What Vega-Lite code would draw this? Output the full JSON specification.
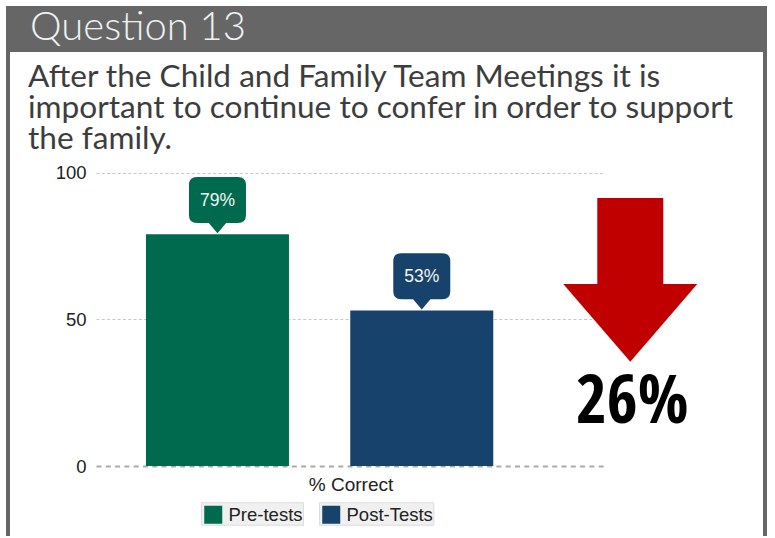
{
  "$schema": "https://vega.github.io/schema/vega-lite/v6.json",
  "padding": {"left": 6, "top": 6, "right": 8, "bottom": 0},
  "background": "#ffffff",
  "spacing": -2,
  "config": {"font": "Liberation Sans"},
  "resolve": {"scale": {"color": "independent"}, "legend": {"color": "independent"}},
  "datasets": {
    "scores": [
      {"series": "Pre-tests", "value": 79, "label": "79%"},
      {"series": "Post-Tests", "value": 53, "label": "53%"}
    ],
    "change": [{"label": "26%"}],
    "heading": [{"text": "Question 13"}],
    "question": [{"text": "After the Child and Family Team Meetings it is\nimportant to continue to confer in order to support\nthe family."}]
  },
  "vconcat": [
    {
      "width": 757,
      "height": 42,
      "view": {"fill": "#666666", "stroke": "#666666", "strokeWidth": 4},
      "data": {"name": "heading"},
      "mark": {
        "type": "text",
        "align": "left",
        "baseline": "alphabetic",
        "dx": -356.5,
        "dy": 11,
        "font": "Lato",
        "fontSize": 40,
        "fontWeight": 300,
        "color": "#eef2f2"
      },
      "encoding": {"text": {"field": "text"}}
    },
    {
      "width": 757,
      "height": 484,
      "view": {
        "fill": "#ffffff",
        "stroke": "#666666",
        "strokeWidth": 4,
        "strokeDash": [0, 757, 484, 757, 484, 0]
      },
      "layer": [
        {
          "data": {"name": "question"},
          "mark": {
            "type": "text",
            "align": "left",
            "baseline": "alphabetic",
            "lineBreak": "\n",
            "lineHeight": 31.2,
            "dx": -358.5,
            "dy": -207,
            "font": "Lato",
            "fontSize": 31.6,
            "color": "#3d3d3d"
          },
          "encoding": {"text": {"field": "text"}}
        },
        {
          "data": {"name": "scores"},
          "mark": {"type": "bar"},
          "encoding": {
            "x": {
              "field": "series",
              "type": "nominal",
              "scale": {
                "type": "band",
                "domain": ["Pre-tests", "Post-Tests"],
                "range": [88, 597],
                "paddingInner": 0.3,
                "paddingOuter": 0.3957,
                "align": 0.309
              },
              "axis": {
                "title": "% Correct",
                "labels": false,
                "ticks": false,
                "grid": false,
                "domain": true,
                "domainColor": "#aaaaaa",
                "domainDash": [5, 4.3],
                "domainWidth": 1.8,
                "offset": -70,
                "titleFont": "Liberation Sans",
                "titleFontSize": 19,
                "titleFontWeight": "normal",
                "titleColor": "#222222",
                "titlePadding": 9
              }
            },
            "y": {
              "field": "value",
              "type": "quantitative",
              "scale": {"domain": [0, 100], "range": [414, 120.7], "nice": false},
              "axis": {
                "values": [0, 50, 100],
                "orient": "left",
                "offset": -88,
                "domain": false,
                "ticks": false,
                "labelPadding": 10,
                "labelFont": "Liberation Sans",
                "labelFontSize": 18.5,
                "labelColor": "#222222",
                "title": null,
                "grid": true,
                "gridColor": "#c8c8c8",
                "gridDash": [3, 2.3],
                "gridWidth": 1,
                "gridOpacity": {"condition": {"test": "datum.value === 0", "value": 0}, "value": 1}
              }
            },
            "color": {
              "field": "series",
              "type": "nominal",
              "scale": {"domain": ["Pre-tests", "Post-Tests"], "range": ["#006A4E", "#16426B"]},
              "legend": {
                "orient": "none",
                "legendX": 193,
                "legendY": 450,
                "direction": "horizontal",
                "title": null,
                "padding": 0,
                "symbolType": "square",
                "symbolSize": 324,
                "symbolStrokeWidth": 0,
                "symbolOffset": 3,
                "labelFont": "Liberation Sans",
                "labelFontSize": 18.5,
                "labelColor": "#222222",
                "labelOffset": 6,
                "columnPadding": 15,
                "encode": {
                  "entries": {
                    "update": {
                      "fill": {"value": "#f0f0f0"},
                      "stroke": {"value": "#dddddd"},
                      "strokeWidth": {"value": 1},
                      "height": {"value": 25}
                    }
                  },
                  "symbols": {"update": {"y": {"value": 12.5}}},
                  "labels": {"update": {"y": {"value": 12.5}}}
                }
              }
            }
          }
        },
        {
          "data": {"name": "scores"},
          "mark": {
            "type": "point",
            "shape": "M -0.683,-1.91 L 0.683,-1.91 Q 0.95,-1.91 0.95,-1.643 L 0.95,-0.644 Q 0.95,-0.377 0.683,-0.377 L 0.29,-0.377 L 0,-0.033 L -0.29,-0.377 L -0.683,-0.377 Q -0.95,-0.377 -0.95,-0.644 L -0.95,-1.643 Q -0.95,-1.91 -0.683,-1.91 Z",
            "size": 3600,
            "filled": true,
            "opacity": 1,
            "strokeWidth": 0
          },
          "encoding": {
            "x": {"field": "series", "type": "nominal"},
            "y": {"field": "value", "type": "quantitative"},
            "color": {"field": "series", "type": "nominal", "legend": null}
          }
        },
        {
          "data": {"name": "scores"},
          "mark": {
            "type": "text",
            "dy": -28.3,
            "baseline": "alphabetic",
            "align": "center",
            "font": "Liberation Sans",
            "fontSize": 17.5,
            "color": "#f5f5f5"
          },
          "encoding": {
            "x": {"field": "series", "type": "nominal"},
            "y": {"field": "value", "type": "quantitative"},
            "text": {"field": "label"}
          }
        },
        {
          "data": {"name": "change"},
          "mark": {
            "type": "point",
            "shape": "M -0.66,-1.488 L 0.66,-1.488 L 0.66,0.232 L 1.34,0.232 L 0,1.786 L -1.34,0.232 L -0.66,0.232 Z",
            "size": 10000,
            "filled": true,
            "opacity": 1,
            "strokeWidth": 0,
            "color": "#C00000"
          },
          "encoding": {
            "x": {"datum": "Post-Tests", "bandPosition": 1.958},
            "y": {"datum": 66}
          }
        },
        {
          "data": {"name": "change"},
          "mark": {
            "type": "text",
            "dy": 150.6,
            "baseline": "alphabetic",
            "align": "center",
            "font": "Open Sans Condensed, Roboto Condensed, Arial Narrow, Liberation Sans Narrow, DejaVu Sans Condensed, sans-serif",
            "fontWeight": "bold",
            "fontSize": 67,
            "color": "#000000"
          },
          "encoding": {
            "x": {"datum": "Post-Tests", "bandPosition": 1.972},
            "y": {"datum": 66},
            "text": {"field": "label"}
          }
        }
      ]
    }
  ]
}
